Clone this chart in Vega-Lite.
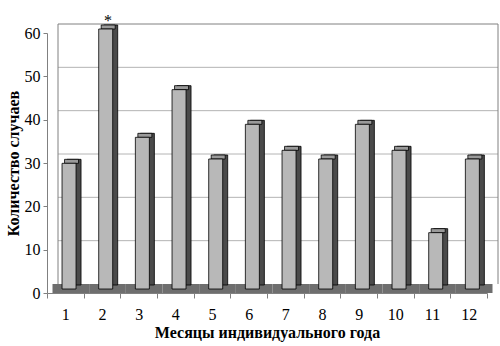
{
  "$schema": "https://vega.github.io/schema/vega-lite/v6.json",
  "width": 440,
  "height": 260,
  "autosize": {"type": "none"},
  "padding": {"left": 47, "top": 33, "right": 13, "bottom": 53},
  "background": "white",
  "config": {
    "view": {"stroke": null},
    "font": "Liberation Serif, Times New Roman, serif"
  },
  "datasets": {
    "months": [
      {"month": "1", "count": 29, "note": ""},
      {"month": "2", "count": 60, "note": "*"},
      {"month": "3", "count": 35, "note": ""},
      {"month": "4", "count": 46, "note": ""},
      {"month": "5", "count": 30, "note": ""},
      {"month": "6", "count": 38, "note": ""},
      {"month": "7", "count": 32, "note": ""},
      {"month": "8", "count": 30, "note": ""},
      {"month": "9", "count": 38, "note": ""},
      {"month": "10", "count": 32, "note": ""},
      {"month": "11", "count": 13, "note": ""},
      {"month": "12", "count": 30, "note": ""}
    ],
    "grid": [{"v": 10}, {"v": 20}, {"v": 30}, {"v": 40}, {"v": 50}]
  },
  "resolve": {"scale": {"x": "independent"}, "axis": {"x": "independent"}},
  "layer": [
    {
      "data": {"name": "grid"},
      "mark": {"type": "rule", "color": "#b4b4b4", "strokeWidth": 1, "xOffset": 11, "x2Offset": 11, "yOffset": -9, "y2Offset": -9},
      "encoding": {
        "x": {"datum": 0, "type": "quantitative", "scale": {"domain": [0, 1], "nice": false, "zero": false}, "axis": null},
        "x2": {"datum": 1},
        "y": {"field": "v", "type": "quantitative", "scale": {"domain": [0, 60]},
          "axis": {
            "title": "Количество случаев",
            "values": [0, 10, 20, 30, 40, 50, 60],
            "grid": false,
            "labelFont": "Liberation Serif, Times New Roman, serif",
            "labelFontSize": 16,
            "labelColor": "black",
            "labelPadding": 3,
            "tickSize": 4,
            "tickColor": "#808080",
            "domainColor": "#808080",
            "titleFont": "Liberation Serif, Times New Roman, serif",
            "titleFontSize": 16,
            "titleFontWeight": "bold",
            "titleColor": "black",
            "titlePadding": 3
          }
        },
        "y2": {"field": "v"}
      }
    },
    {
      "data": {"values": [{"a": 0, "b": 1, "top": 60, "bottom": 0}]},
      "layer": [
        {
          "mark": {"type": "rule", "color": "#808080", "strokeWidth": 1, "xOffset": 11, "x2Offset": 11, "yOffset": -9, "y2Offset": -9},
          "encoding": {
            "x": {"field": "a", "type": "quantitative", "scale": {"domain": [0, 1], "nice": false, "zero": false}, "axis": null},
            "x2": {"field": "b"},
            "y": {"field": "top", "type": "quantitative"},
            "y2": {"field": "top"}
          }
        },
        {
          "mark": {"type": "rule", "color": "#808080", "strokeWidth": 1, "xOffset": 11, "yOffset": -9, "y2Offset": -9},
          "encoding": {
            "x": {"field": "a", "type": "quantitative", "scale": {"domain": [0, 1], "nice": false, "zero": false}, "axis": null},
            "y": {"field": "top", "type": "quantitative"},
            "y2": {"field": "bottom"}
          }
        },
        {
          "mark": {"type": "rule", "color": "#808080", "strokeWidth": 1, "xOffset": 11, "yOffset": -9, "y2Offset": -9},
          "encoding": {
            "x": {"field": "b", "type": "quantitative", "scale": {"domain": [0, 1], "nice": false, "zero": false}, "axis": null},
            "y": {"field": "top", "type": "quantitative"},
            "y2": {"field": "bottom"}
          }
        }
      ]
    },
    {
      "data": {"name": "months"},
      "encoding": {
        "x": {
          "field": "month",
          "type": "ordinal",
          "sort": null,
          "scale": {"domain": ["1", "2", "3", "4", "5", "6", "7", "8", "9", "10", "11", "12"], "paddingInner": 0, "paddingOuter": 0},
          "axis": {
            "title": "Месяцы индивидуального года",
            "labelAngle": 0,
            "labelFont": "Liberation Serif, Times New Roman, serif",
            "labelFontSize": 16,
            "labelColor": "black",
            "labelPadding": 8,
            "tickBand": "extent",
            "tickSize": 5,
            "tickColor": "#808080",
            "domainColor": "#808080",
            "titleFont": "Liberation Serif, Times New Roman, serif",
            "titleFontSize": 16,
            "titleFontWeight": "bold",
            "titleColor": "black",
            "titlePadding": 2
          }
        }
      },
      "layer": [
        {
          "mark": {"type": "bar", "color": "#6e6e6e", "width": {"band": 1}, "xOffset": 5.5, "yOffset": -9, "y2Offset": 0},
          "encoding": {
            "y": {"datum": 0, "type": "quantitative"},
            "y2": {"datum": 0}
          }
        },
        {
          "mark": {"type": "bar", "fill": "#4a4a4a", "stroke": "black", "strokeWidth": 0.8, "width": 14, "xOffset": 8.7, "yOffset": -8, "y2Offset": -8},
          "encoding": {
            "y": {"field": "count", "type": "quantitative"}
          }
        },
        {
          "mark": {"type": "bar", "fill": "#9a9a9a", "stroke": "black", "strokeWidth": 0.8, "width": 14, "xOffset": 6.2, "yOffset": -8, "y2Offset": -4},
          "encoding": {
            "y": {"field": "count", "type": "quantitative"},
            "y2": {"field": "count"}
          }
        },
        {
          "mark": {"type": "bar", "fill": "#b8b8b8", "stroke": "black", "strokeWidth": 0.8, "width": 14, "xOffset": 3.7, "yOffset": -4, "y2Offset": -4},
          "encoding": {
            "y": {"field": "count", "type": "quantitative"}
          }
        },
        {
          "mark": {"type": "text", "font": "Liberation Serif, Times New Roman, serif", "fontSize": 16, "color": "black", "xOffset": 6, "dy": -7, "baseline": "alphabetic"},
          "encoding": {
            "y": {"field": "count", "type": "quantitative"},
            "text": {"field": "note"}
          }
        }
      ]
    }
  ]
}
